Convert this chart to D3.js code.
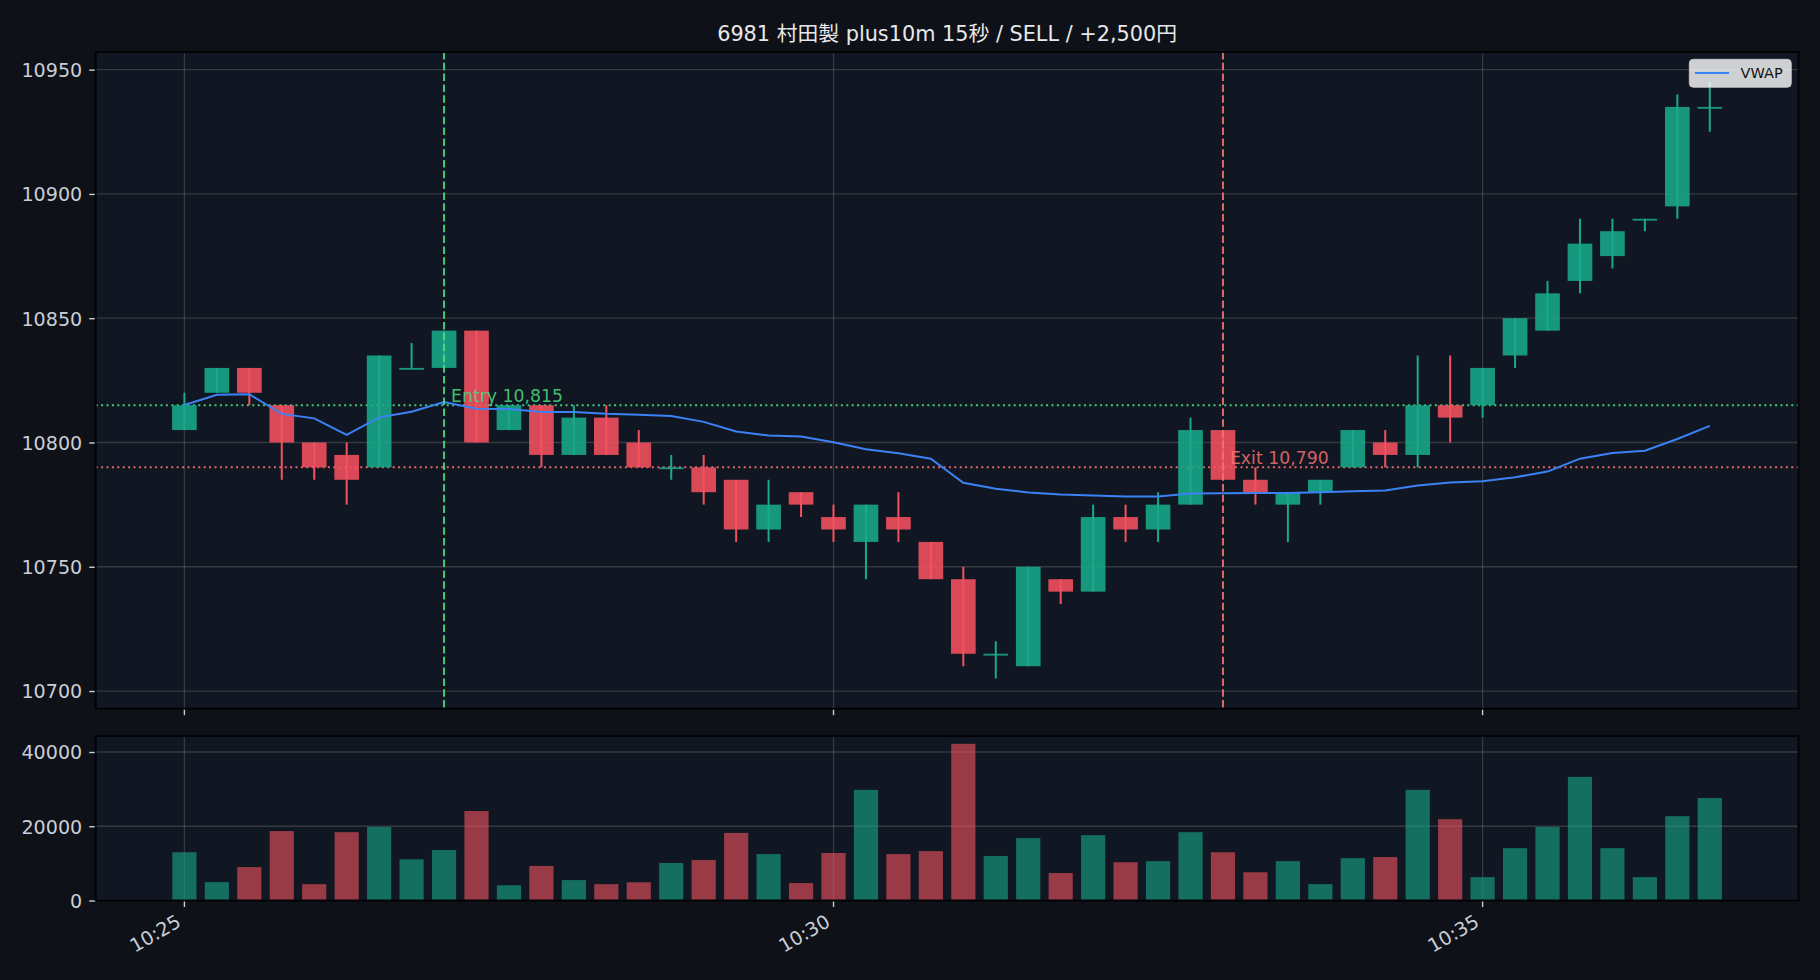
<!DOCTYPE html>
<html>
<head>
<meta charset="utf-8">
<script src="https://cdn.jsdelivr.net/npm/d3@7"></script>
<style>
  html, body { margin: 0; padding: 0; background: #0e1117; }
  text { font-family: "DejaVu Sans", "Noto Sans CJK JP", sans-serif; }
</style>
</head>
<body>
<script>
// 15 second bars
var times = ["10:25:00","10:25:15","10:25:30","10:25:45","10:26:00","10:26:15","10:26:30","10:26:45",
             "10:27:00","10:27:15","10:27:30","10:27:45","10:28:00","10:28:15","10:28:30","10:28:45",
             "10:29:00","10:29:15","10:29:30","10:29:45","10:30:00","10:30:15","10:30:30","10:30:45",
             "10:31:00","10:31:15","10:31:30","10:31:45","10:32:00","10:32:15","10:32:30","10:32:45",
             "10:33:00","10:33:15","10:33:30","10:33:45","10:34:00","10:34:15","10:34:30","10:34:45",
             "10:35:00","10:35:15","10:35:30","10:35:45","10:36:00","10:36:15","10:36:30","10:36:45"];
var opens  = [10805,10820,10830,10815,10800,10795,10790,10830,10830,10845,10805,10815,10795,10810,10800,10790,
              10790,10785,10765,10780,10770,10760,10770,10760,10745,10715,10710,10745,10740,10770,10765,10775,
              10805,10785,10775,10780,10790,10800,10795,10815,10815,10835,10845,10865,10875,10890,10895,10935];
var highs  = [10820,10830,10830,10815,10800,10800,10835,10840,10845,10845,10815,10815,10815,10815,10805,10795,
              10795,10785,10785,10780,10775,10775,10780,10760,10750,10720,10750,10745,10775,10775,10780,10810,
              10805,10790,10780,10785,10805,10805,10835,10835,10830,10850,10865,10890,10890,10890,10940,10945];
var lows   = [10805,10820,10815,10785,10785,10775,10790,10830,10830,10800,10805,10790,10795,10795,10790,10785,
              10775,10760,10760,10770,10760,10745,10760,10745,10710,10705,10710,10735,10740,10760,10760,10775,
              10785,10775,10760,10775,10790,10790,10790,10800,10810,10830,10845,10860,10870,10885,10890,10925];
var closes = [10815,10830,10820,10800,10790,10785,10835,10830,10845,10800,10815,10795,10810,10795,10790,10790,
              10780,10765,10775,10775,10765,10775,10765,10745,10715,10715,10750,10740,10770,10765,10775,10805,
              10785,10780,10780,10785,10805,10795,10815,10810,10830,10850,10860,10880,10885,10890,10935,10935];
var volumes = [13000,4950,9000,18700,4400,18400,19800,11100,13600,24100,4100,9300,5500,4400,4900,10100,
               10900,18200,12500,4700,12800,29800,12500,13300,42200,12000,16800,7400,17600,10300,10600,18400,
               13000,7600,10600,4400,11400,11700,29800,21900,6300,14100,19800,33300,14100,6300,22700,27600];
var vwap = [10815.1,10819.2,10819.4,10811.5,10809.7,10803.1,10810.1,10812.4,10816.3,10813.6,10813.5,10812.3,
            10812.3,10811.6,10811.2,10810.7,10808.3,10804.4,10802.8,10802.4,10800.1,10797.3,10795.7,10793.5,
            10783.8,10781.4,10779.9,10779.1,10778.7,10778.3,10778.3,10779.5,10779.6,10779.7,10779.7,10780.0,
            10780.4,10780.7,10782.7,10783.9,10784.4,10786.0,10788.3,10793.5,10795.8,10796.7,10801.4,10806.7];

var priceTicks = [10700,10750,10800,10850,10900,10950];
var volTicks = [0,20000,40000];
var timeTicks = ["10:25:00","10:30:00","10:35:00"];

var entryTime = "10:27:00", entryPrice = 10815;
var exitTime = "10:33:00", exitPrice = 10790;
var title = "6981 村田製 plus10m 15秒 / SELL / +2,500円";

var UP = "#18aa8a", DOWN = "#f55160", VWAPC = "#3b82f6";
var ENTRYC = "#4ade80", EXITC = "#f87171";

var width = 1820, height = 980;
var left = 95.7, right = 1798.5;
var main = {top: 52, bottom: 708.7}, vol = {top: 736, bottom: 900.5};
var tickFont = "19.1px";

var parse = d3.timeParse("%H:%M:%S");
var data = times.map(function(t, i) {
  return {t: parse(t), o: opens[i], h: highs[i], l: lows[i], c: closes[i], v: volumes[i], w: vwap[i]};
});

var pad = 41 * 1000;   // ~41s of empty space on each side
var x = d3.scaleTime()
    .domain([new Date(data[0].t.getTime() - pad), new Date(data[data.length-1].t.getTime() + pad)])
    .range([left, right]);
var barW = x(new Date(data[0].t.getTime() + 11400)) - x(data[0].t);

var y = d3.scaleLinear().domain([10692.9, 10957.1]).range([main.bottom, main.top]);
var vy = d3.scaleLinear().domain([0, d3.max(volumes) * 1.05]).range([vol.bottom, vol.top]);

var svg = d3.select("body").append("svg")
    .attr("width", width)
    .attr("height", height)
    .style("display", "block");

svg.append("rect").attr("width", width).attr("height", height).attr("fill", "#0e1117");

var defs = svg.append("defs");
defs.append("clipPath").attr("id", "clipMain").append("rect")
    .attr("x", left).attr("y", main.top).attr("width", right - left).attr("height", main.bottom - main.top);
defs.append("clipPath").attr("id", "clipVol").append("rect")
    .attr("x", left).attr("y", vol.top).attr("width", right - left).attr("height", vol.bottom - vol.top);

// panel backgrounds
[main, vol].forEach(function(p) {
  svg.append("rect")
      .attr("x", left).attr("y", p.top)
      .attr("width", right - left).attr("height", p.bottom - p.top)
      .attr("fill", "#111722");
});

// grids
function grid(g, p, yscale, yticks) {
  g.selectAll("line.gx").data(timeTicks.map(parse)).enter().append("line")
      .attr("x1", function(d) { return x(d); }).attr("x2", function(d) { return x(d); })
      .attr("y1", p.top).attr("y2", p.bottom)
      .attr("stroke", "#ffffff").attr("stroke-opacity", 0.15).attr("stroke-width", 1.3);
  g.selectAll("line.gy").data(yticks).enter().append("line")
      .attr("x1", left).attr("x2", right)
      .attr("y1", function(d) { return yscale(d); }).attr("y2", function(d) { return yscale(d); })
      .attr("stroke", "#ffffff").attr("stroke-opacity", 0.15).attr("stroke-width", 1.3);
}
grid(svg.append("g").attr("clip-path", "url(#clipMain)"), main, y, priceTicks);
grid(svg.append("g").attr("clip-path", "url(#clipVol)"), vol, vy, volTicks);

// ****************** price panel ***************************
var gm = svg.append("g").attr("clip-path", "url(#clipMain)");

// entry / exit price levels
gm.append("line")
    .attr("x1", left).attr("x2", right).attr("y1", y(entryPrice)).attr("y2", y(entryPrice))
    .attr("stroke", ENTRYC).attr("stroke-width", 2).attr("stroke-dasharray", "2,3.4").attr("opacity", 0.9);
gm.append("line")
    .attr("x1", left).attr("x2", right).attr("y1", y(exitPrice)).attr("y2", y(exitPrice))
    .attr("stroke", EXITC).attr("stroke-width", 2).attr("stroke-dasharray", "2,3.4").attr("opacity", 0.9);

function col(d) { return d.c >= d.o ? UP : DOWN; }

var candle = gm.selectAll("g.candle").data(data).enter().append("g").attr("class", "candle");
candle.append("line")
    .attr("x1", function(d) { return x(d.t); }).attr("x2", function(d) { return x(d.t); })
    .attr("y1", function(d) { return y(d.h); }).attr("y2", function(d) { return y(d.l); })
    .attr("stroke", col).attr("stroke-width", 2);
candle.append("rect")
    .attr("x", function(d) { return x(d.t) - barW / 2; })
    .attr("width", barW)
    .attr("y", function(d) { return y(Math.max(d.o, d.c)); })
    .attr("height", function(d) { return Math.max(1.8, Math.abs(y(d.o) - y(d.c))); })
    .attr("fill", col).attr("fill-opacity", 0.88);

// VWAP
gm.append("path")
    .datum(data)
    .attr("fill", "none")
    .attr("stroke", VWAPC)
    .attr("stroke-width", 2)
    .attr("d", d3.line().x(function(d) { return x(d.t); }).y(function(d) { return y(d.w); }));

// entry / exit markers
gm.append("line")
    .attr("x1", x(parse(entryTime))).attr("x2", x(parse(entryTime)))
    .attr("y1", main.top).attr("y2", main.bottom)
    .attr("stroke", ENTRYC).attr("stroke-width", 2).attr("stroke-dasharray", "7.5,3.3").attr("opacity", 0.9);
gm.append("line")
    .attr("x1", x(parse(exitTime))).attr("x2", x(parse(exitTime)))
    .attr("y1", main.top).attr("y2", main.bottom)
    .attr("stroke", EXITC).attr("stroke-width", 2).attr("stroke-dasharray", "7.5,3.3").attr("opacity", 0.9);

var fmtPrice = d3.format(",");
gm.append("text")
    .attr("x", x(parse(entryTime)) + 7).attr("y", y(entryPrice) - 3.6)
    .attr("fill", ENTRYC).attr("fill-opacity", 0.85)
    .style("font-size", "17.3px")
    .text("Entry " + fmtPrice(entryPrice));
gm.append("text")
    .attr("x", x(parse(exitTime)) + 7).attr("y", y(exitPrice) - 3.8)
    .attr("fill", EXITC).attr("fill-opacity", 0.85)
    .style("font-size", "17.3px")
    .text("Exit " + fmtPrice(exitPrice));

// ****************** volume panel ***************************
var gv = svg.append("g").attr("clip-path", "url(#clipVol)");
gv.selectAll("rect.vol").data(data).enter().append("rect")
    .attr("class", "vol")
    .attr("x", function(d) { return x(d.t) - barW * 0.49; })
    .attr("width", barW * 0.98)
    .attr("y", function(d) { return vy(d.v); })
    .attr("height", function(d) { return vy(0) - vy(d.v); })
    .attr("fill", col).attr("fill-opacity", 0.6);

// ****************** axes ***************************
var tickCol = "#c9ced6";

function yAxis(yscale, ticks) {
  var g = svg.append("g").attr("transform", "translate(" + left + ",0)")
      .call(d3.axisLeft(yscale).tickValues(ticks).tickSize(6.5).tickPadding(7).tickFormat(d3.format("d")));
  g.select(".domain").remove();
  g.selectAll(".tick line").attr("stroke", tickCol).attr("stroke-width", 1.4);
  g.selectAll(".tick text")
      .attr("fill", tickCol).attr("dy", "0.36em")
      .style("font-size", tickFont).style("font-family", "DejaVu Sans");
}
yAxis(y, priceTicks);
yAxis(vy, volTicks);

// x tick marks on both panels
[main, vol].forEach(function(p) {
  svg.append("g").selectAll("line").data(timeTicks.map(parse)).enter().append("line")
      .attr("x1", function(d) { return x(d); }).attr("x2", function(d) { return x(d); })
      .attr("y1", p.bottom).attr("y2", p.bottom + 6.5)
      .attr("stroke", tickCol).attr("stroke-width", 1.4);
});

// rotated time labels under volume panel
var fmtTime = d3.timeFormat("%H:%M");
svg.append("g").selectAll("text").data(timeTicks.map(parse)).enter().append("text")
    .attr("transform", function(d) { return "translate(" + (x(d) - 2.1) + "," + (vol.bottom + 25) + ") rotate(-30)"; })
    .attr("text-anchor", "end")
    .attr("fill", tickCol)
    .style("font-size", tickFont)
    .text(function(d) { return fmtTime(d); });

// spines
[main, vol].forEach(function(p) {
  svg.append("rect")
      .attr("x", left).attr("y", p.top)
      .attr("width", right - left).attr("height", p.bottom - p.top)
      .attr("fill", "none").attr("stroke", "#020304").attr("stroke-width", 2);
});

// legend
var lg = svg.append("g");
lg.append("rect")
    .attr("x", 1689.3).attr("y", 59.3).attr("width", 102).attr("height", 28).attr("rx", 4)
    .attr("fill", "#ffffff").attr("fill-opacity", 0.8)
    .attr("stroke", "#cccccc").attr("stroke-opacity", 0.8);
lg.append("line")
    .attr("x1", 1695).attr("x2", 1729).attr("y1", 73).attr("y2", 73)
    .attr("stroke", VWAPC).attr("stroke-width", 2);
lg.append("text")
    .attr("x", 1740.5).attr("y", 73).attr("dy", "0.36em")
    .attr("fill", "#111111")
    .style("font-size", "14.5px")
    .text("VWAP");

// title
svg.append("text")
    .attr("x", (left + right) / 2).attr("y", 41)
    .attr("text-anchor", "middle")
    .attr("fill", "#e8e8e8")
    .style("font-size", "20.8px")
    .text(title);
</script>
</body>
</html>
